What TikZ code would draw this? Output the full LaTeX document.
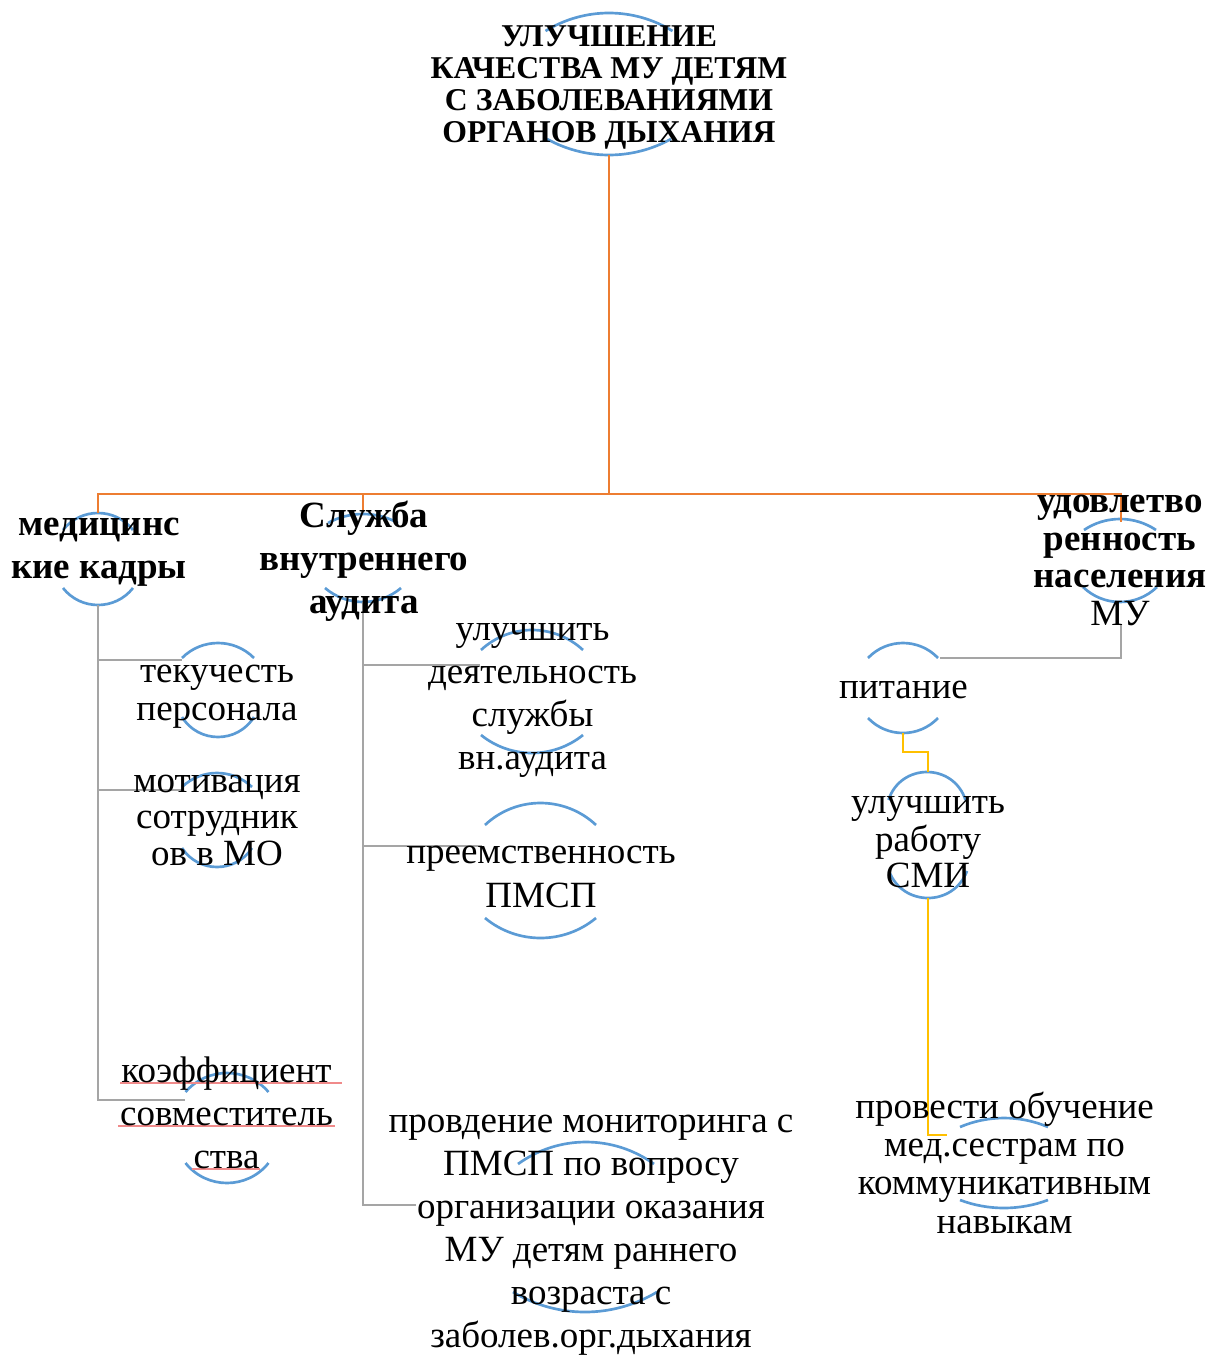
\documentclass[tikz,border=0pt]{standalone}
\usepackage{fontspec}
\setmainfont{Liberation Serif}
\usepackage{tikz}
\definecolor{arcblue}{HTML}{5B9BD5}
\definecolor{trunkorange}{HTML}{ED7D31}
\definecolor{twiggray}{HTML}{A5A5A5}
\definecolor{vineyellow}{HTML}{FFC000}
\definecolor{squigred}{HTML}{F08A8A}
\newcommand{\lid}[4]{%
	\pgfmathsetmacro{\lidr}{((#3)*(#3)+(#4)*(#4))/(2*abs(#4))}%
	\pgfmathsetmacro{\lidt}{asin((#3)/\lidr)}%
	\pgfmathsetmacro{\lidl}{4/3*tan(\lidt/2)*\lidr}%
	\pgfmathsetmacro{\lidx}{\lidl*cos(\lidt)}%
	\pgfmathsetmacro{\lidy}{\lidl*sin(\lidt)*(#4)/abs(#4)}%
	\draw[rim] ({#1-#3},#2) .. controls ({#1-#3+\lidx},{#2-(\lidy)}) and ({#1+#3-\lidx},{#2-(\lidy)}) .. ({#1+#3},#2);%
}

\begin{document}
\begin{tikzpicture}[x=0.75pt, y=-0.75pt,
		lbl/.style={align=center, inner sep=0pt, anchor=north},
		crown/.style={lbl, font=\bfseries\fontsize{23.8}{23.8}\selectfont},
		head/.style={lbl, font=\bfseries\fontsize{27.75}{#1}\selectfont},
		head/.default=32.25,
		leaf/.style={lbl, font=\fontsize{27.75}{#1}\selectfont},
		leaf/.default=32.25,
		rim/.style={draw=arcblue, line width=2pt},
		trunk/.style={draw=trunkorange, line width=2.2pt},
		twig/.style={draw=twiggray, line width=2.1pt},
		vine/.style={draw=vineyellow, line width=2.1pt},
		squig/.style={draw=squigred, line width=0.8pt}]
	\useasboundingbox (0,0) rectangle (1210,1356);

	\lid{609}{31}{63.5}{18}
	\lid{609}{139}{62}{-16}
	\lid{98}{530}{35}{17}
	\lid{98}{588}{35}{-17}
	\lid{363}{523}{35}{9}
	\lid{363}{588}{38}{-14}
	\lid{1120}{530}{36}{11}
	\lid{1120}{587}{37}{-15}
	\lid{218}{658}{36}{15}
	\lid{218}{717}{36}{-20}
	\lid{217}{787}{35}{14}
	\lid{217}{848}{35}{-19}
	\lid{227}{1092}{41.5}{19}
	\lid{227}{1163}{41.5}{-20}
	\lid{532}{650}{51}{20}
	\lid{532}{735}{51}{-18}
	\lid{540.5}{825}{55.5}{22}
	\lid{540.5}{918}{55.5}{-20}
	\lid{586}{1164}{68}{22}
	\lid{585}{1292}{72}{-20}
	\lid{903}{658}{35}{15}
	\lid{903}{718}{35}{-15}
	\lid{927}{800}{38.5}{28}
	\lid{928}{871}{39}{-27}
	\lid{1004}{1127}{44}{9}
	\lid{1004}{1200}{44}{-8}

	\coordinate (Gb) at (609,155);
	\coordinate (bus) at (609,494);
	\coordinate (Kt) at (98,513);
	\coordinate (At) at (363,512);
	\coordinate (Ut) at (1121,522);
	\coordinate (Kb) at (98,605);
	\coordinate (K1w) at (182,660);
	\coordinate (K2w) at (182,790);
	\coordinate (K3w) at (185,1100);
	\coordinate (Ab) at (363,602);
	\coordinate (A1w) at (480,665);
	\coordinate (A2w) at (482,846);
	\coordinate (A3w) at (416,1205);
	\coordinate (Ub) at (1121,624);
	\coordinate (U1e) at (940,658);
	\coordinate (U1b) at (903,733);
	\coordinate (U2t) at (928,772);
	\coordinate (U2b) at (928,898);
	\coordinate (U3w) at (947,1135);

	\draw[trunk] (Gb) -- (bus) -| (Kt);
	\draw[trunk] (bus) -| (At);
	\draw[trunk] (bus) -| (Ut);
	\draw[twig] (Kb) |- (K1w);
	\draw[twig] (Kb) |- (K2w);
	\draw[twig] (Kb) |- (K3w);
	\draw[twig] (Ab) |- (A1w);
	\draw[twig] (Ab) |- (A2w);
	\draw[twig] (Ab) |- (A3w);
	\draw[twig] (Ub) |- (U1e);
	\draw[vine] (U1b) -- ++(0,19) -| (U2t);
	\draw[vine] (U2b) |- (U3w);

	\draw[squig] (120,1083) -- (342,1083);
	\draw[squig] (118,1126) -- (335,1126);
	\draw[squig] (192,1169) -- (260,1169);

	\node[crown] (G) at (609,24.5) {\strut УЛУЧШЕНИЕ\\КАЧЕСТВА МУ ДЕТЯМ\\С ЗАБОЛЕВАНИЯМИ\\ОРГАНОВ ДЫХАНИЯ};
	\node[head] (K) at (99,505) {\strut медицинс\\кие кадры};
	\node[head] (A) at (364,497) {\strut Служба\\внутреннего\\аудита};
	\node[head=28.3] (U) at (1120,485.6) {\strut удовлетво\\ренность\\населения\\{\mdseries МУ}};
	\node[leaf=28.7] (K1) at (217,655.4) {\strut текучесть\\персонала};
	\node[leaf=27.4] (K2) at (217,766.4) {\strut мотивация\\сотрудник\\ов в МО};
	\node[leaf] (K3) at (226.5,1052) {\strut коэффициент\\совместитель\\ства};
	\node[leaf] (A1) at (532.5,610) {\strut улучшить\\деятельность\\службы\\вн.аудита};
	\node[leaf=33] (A2) at (541,832.2) {\strut преемственность\\ПМСП};
	\node[leaf] (A3) at (591,1102) {\strut провдение мониторинга с\\ПМСП по вопросу\\организации оказания\\МУ детям раннего\\возраста с\\заболев.орг.дыхания};
	\node[leaf=28.5] (U1) at (903.5,671.4) {\strut питание};
	\node[leaf=27] (U2) at (928,787.8) {\strut улучшить\\работу\\СМИ};
	\node[leaf=28.7] (U3) at (1004.5,1091.2) {\strut провести обучение\\мед.сестрам по\\коммуникативным\\навыкам};
\end{tikzpicture}
\end{document}
